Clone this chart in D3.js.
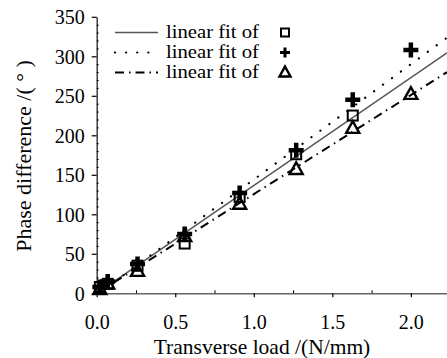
<!DOCTYPE html>
<html><head><meta charset="utf-8">
<script src="https://cdn.jsdelivr.net/npm/d3@7"></script>
<style>body{margin:0;background:#fff}svg{display:block}text{font-family:"Liberation Serif","Times New Roman",serif !important;fill:#000}</style>
</head><body><svg id="c" width="447" height="358"></svg>
<script>
const xTicks = [0.0, 0.5, 1.0, 1.5, 2.0];
const yTicks = [0, 50, 100, 150, 200, 250, 300, 350];
const loadSquare = [0.02, 0.07, 0.26, 0.56, 0.91, 1.27, 1.63];
const phaseSquare = [8, 12, 35, 63, 122, 176, 225];
const loadPlus = [0.02, 0.07, 0.26, 0.56, 0.91, 1.27, 1.63, 2.0];
const phasePlus = [8, 15, 37, 75, 127, 181, 245, 308];
const loadTri = [0.02, 0.07, 0.26, 0.56, 0.91, 1.27, 1.63, 2.0];
const phaseTri = [5, 12, 28, 72, 113, 157, 209, 252];
const fitNames = ["linear fit of", "linear fit of", "linear fit of"];
const fitSlope = [136.5, 146, 125.5];
const fitIntercept = [0, -2, 0];

const svg = d3.select("#c");
const x = d3.scaleLinear().domain([0, 2.23]).range([96.7, 447]);
const y = d3.scaleLinear().domain([0, 350]).range([293.3, 16.8]);

// axes
const xAxis = d3.axisBottom(x).tickValues(xTicks).tickFormat(d3.format(".1f")).tickSize(4).tickSizeOuter(0);
const gx = svg.append("g").attr("transform", "translate(0,293.3)").call(xAxis);
gx.attr("font-family", null);
gx.select(".domain").attr("stroke", "#666").attr("stroke-width", 1.6);
gx.selectAll(".tick line").attr("stroke", "#000").attr("stroke-width", 1.2);
gx.selectAll(".tick text").attr("font-size", 20).attr("y", 0).attr("dy", 36);
const gxm = svg.append("g").attr("transform", "translate(0,293.3)")
  .call(d3.axisBottom(x).tickValues(d3.range(0.25, 2.23, 0.5)).tickFormat("").tickSize(-3).tickSizeOuter(0));
gxm.select(".domain").remove();
gxm.selectAll(".tick line").attr("stroke", "#000");

const yAxis = d3.axisLeft(y).tickValues(yTicks).tickSize(5).tickSizeOuter(0);
const gy = svg.append("g").attr("transform", "translate(96.7,0)").call(yAxis);
gy.attr("font-family", null);
gy.select(".domain").attr("stroke", "#333").attr("stroke-width", 1.4);
gy.selectAll(".tick line").attr("stroke", "#000").attr("stroke-width", 1.2);
gy.selectAll(".tick text").attr("font-size", 20).attr("x", -12).attr("dy", "0.34em");
const gym = svg.append("g").attr("transform", "translate(96.7,0)")
  .call(d3.axisLeft(y).tickValues(d3.range(10, 350, 10).filter(v => v % 50 !== 0)).tickFormat("").tickSize(-2).tickSizeOuter(0));
gym.select(".domain").remove();
gym.selectAll(".tick line").attr("stroke", "#000");

// titles
svg.append("text").attr("x", 262).attr("y", 354).attr("text-anchor", "middle").attr("font-size", 21.5)
  .text("Transverse load /(N/mm)");
svg.append("text").attr("transform", "translate(31,156) rotate(-90)").attr("text-anchor", "middle").attr("font-size", 22)
  .text("Phase difference /( ° )");

// clip
svg.append("clipPath").attr("id", "clip").append("rect").attr("x", 96.7).attr("y", 0).attr("width", 360).attr("height", 293.3);

const styles = [
  {stroke: "#555", width: 1.5, dash: null, cap: "butt"},
  {stroke: "#000", width: 2.2, dash: "0.1 11", cap: "round"},
  {stroke: "#000", width: 2, dash: "9 5 1.5 5", cap: "butt"}
];

const plot = svg.append("g").attr("clip-path", "url(#clip)");
fitSlope.forEach((s, i) => {
  const xs = [0, 2.23];
  plot.append("path")
    .attr("d", d3.line().x(d => x(d)).y(d => y(fitIntercept[i] + s * d))(xs))
    .attr("fill", "none").attr("stroke", styles[i].stroke).attr("stroke-width", styles[i].width)
    .attr("stroke-dasharray", styles[i].dash).attr("stroke-linecap", styles[i].cap);
});

function drawSquare(g, cx, cy, s, w) {
  g.append("rect").attr("x", cx - s/2).attr("y", cy - s/2).attr("width", s).attr("height", s)
    .attr("fill", "none").attr("stroke", "#000").attr("stroke-width", w);
}
function drawPlus(g, cx, cy, s, w) {
  g.append("path").attr("d", `M${cx - s/2},${cy}H${cx + s/2}M${cx},${cy - s/2}V${cy + s/2}`)
    .attr("stroke", "#000").attr("stroke-width", w).attr("fill", "none");
}
function drawTri(g, cx, cy, s, w) {
  const h = s * 0.9;
  g.append("path").attr("d", `M${cx},${cy - h*0.6}L${cx + s/2},${cy + h*0.4}L${cx - s/2},${cy + h*0.4}Z`)
    .attr("fill", "none").attr("stroke", "#000").attr("stroke-width", w).attr("stroke-linejoin", "miter");
}

const pts = svg.append("g");
loadTri.forEach((d, i) => drawTri(pts, x(d), y(phaseTri[i]), 13, 2.4));
loadSquare.forEach((d, i) => drawSquare(pts, x(d), y(phaseSquare[i]), 10, 2));
loadPlus.forEach((d, i) => drawPlus(pts, x(d), y(phasePlus[i]), 15, 4.5));

// legend
const legY = [32.5, 52.5, 72.5];
const leg = svg.append("g");
legY.forEach((ly, i) => {
  leg.append("line").attr("x1", 115).attr("x2", 158).attr("y1", ly).attr("y2", ly)
    .attr("stroke", styles[i].stroke).attr("stroke-width", styles[i].width)
    .attr("stroke-dasharray", styles[i].dash).attr("stroke-linecap", styles[i].cap);
  leg.append("text").attr("transform", `translate(166,${ly + 5.5}) scale(1.15,1)`)
    .attr("font-size", 18).text(fitNames[i]);
});
drawSquare(leg, 285, legY[0], 8, 2);
drawPlus(leg, 285, legY[1], 10, 3);
drawTri(leg, 285, legY[2], 11, 2.4);
</script></body></html>
